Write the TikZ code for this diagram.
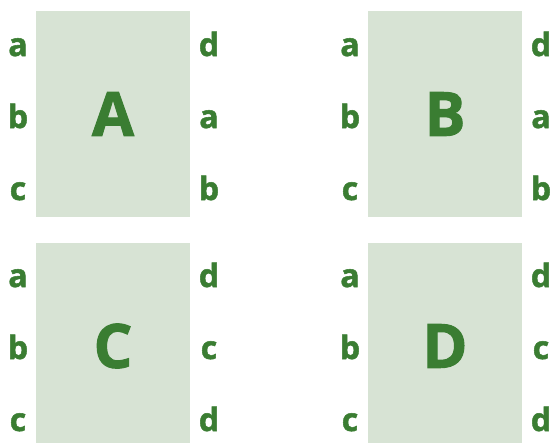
\documentclass[tikz,border=0pt]{standalone}
\usepackage{fontspec}
\setmainfont{Open Sans}[BoldFeatures={FakeBold=1.6}]
\usepackage{xcolor}
\usepackage{tikz}
\usetikzlibrary{positioning}

\definecolor{leafgreen}{HTML}{3A7D32}
\definecolor{panelgreen}{HTML}{D7E3D4}

\begin{document}
\begin{tikzpicture}[x=1pt, y=-1pt,
  panel/.style={fill=panelgreen, minimum width=154pt, minimum height=206pt, inner sep=0pt,
    text=leafgreen, font=\fontsize{61}{61}\selectfont\bfseries},
  portlabel/.style={anchor=base, inner sep=0pt, text=leafgreen,
    font=\fontsize{32}{32}\selectfont\bfseries}]
\useasboundingbox (0,0) rectangle (553,442);
% panels
\node[panel] (pA) at (113,114) {A};
\node[panel] (pB) at (445,114) {B};
\node[panel] (pC) at (113,346) {C};
\node[panel] (pD) at (445,346) {D};
% left ports
\foreach \nm/\x in {A/18, B/350} {
  \node[portlabel] (\nm la) at (\x,56) {a};
  \node[portlabel] (\nm lb) at (\x,128) {b};
  \node[portlabel] (\nm lc) at (\x,200) {c};
}
\foreach \nm/\x in {C/18, D/350} {
  \node[portlabel] (\nm la) at (\x,287) {a};
  \node[portlabel] (\nm lb) at (\x,359) {b};
  \node[portlabel] (\nm lc) at (\x,431) {c};
}
% right ports
\foreach \nm/\x in {A/209, B/541} {
  \node[portlabel] (\nm r1) at (\x,56) {d};
  \node[portlabel] (\nm r2) at (\x,128) {a};
  \node[portlabel] (\nm r3) at (\x,200) {b};
}
\foreach \nm/\x in {C/209, D/541} {
  \node[portlabel] (\nm r1) at (\x,287) {d};
  \node[portlabel] (\nm r2) at (\x,359) {c};
  \node[portlabel] (\nm r3) at (\x,431) {d};
}
\end{tikzpicture}
\end{document}
